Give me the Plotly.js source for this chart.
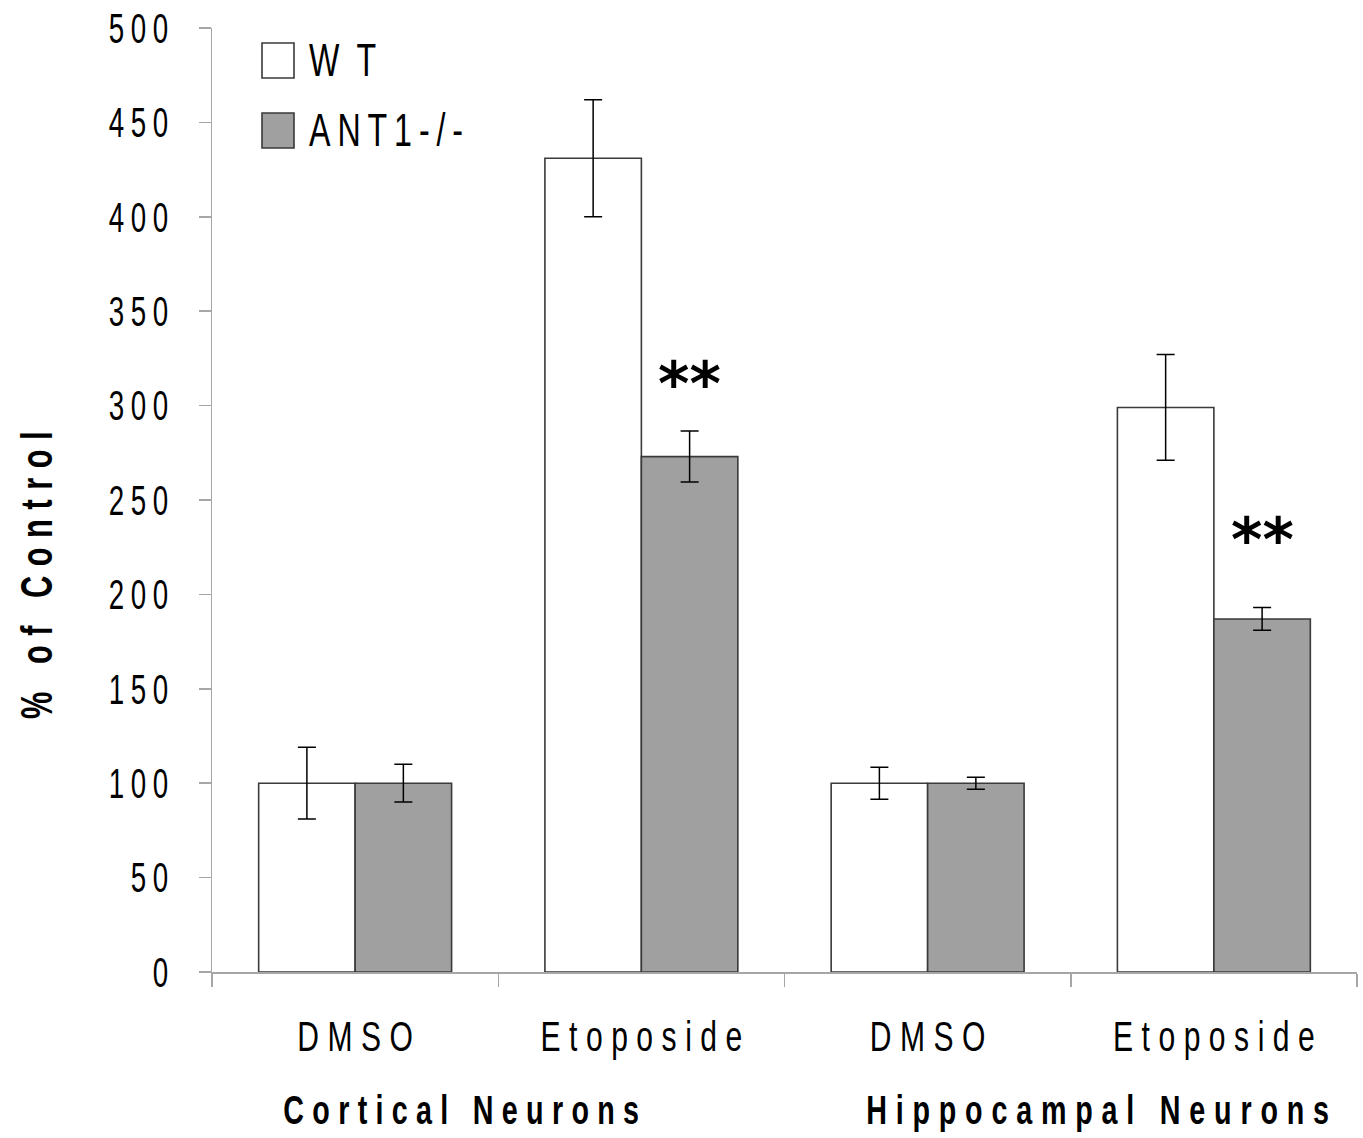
<!DOCTYPE html>
<html>
<head>
<meta charset="utf-8">
<script src="https://cdn.plot.ly/plotly-3.0.1.min.js"></script>
<style>
  html, body { margin: 0; padding: 0; background: #fff; }
  #chart { width: 1363px; height: 1138px; }
</style>
</head>
<body>
<div id="chart"></div>
<script>
// ---- data ----
const categories = ["DMSO", "Etoposide", "DMSO", "Etoposide"];
const groups = ["Cortical Neurons", "Hippocampal Neurons"];
const seriesNames = ["WT", "ANT1-/-"];
const wtValues = [100, 431, 100, 299];
const wtErrors = [19, 31, 8.5, 28];
const antValues = [100, 273, 100, 187];
const antErrors = [10, 13.5, 3.2, 6];
const significance = ["", "**", "", "**"];
const yTickVals = [0, 50, 100, 150, 200, 250, 300, 350, 400, 450, 500];
const yTitle = "% of Control";

// ---- layout helpers (pixel -> paper) ----
const L = 212, R = 1357, T = 28, B = 972;
const px = x => (x - L) / (R - L);
const py = y => (B - y) / (B - T);

const xIdx = categories.map((_, i) => i);
const gray = '#a6a6a6';
const fontFam = '"Liberation Sans", Arial, sans-serif';
const BARGAP = 0.326;
const barOffsetPx = (R - L) / categories.length * (1 - BARGAP) / 4;

const traces = [
  {
    type: 'bar', name: seriesNames[0], x: xIdx, y: wtValues,
    marker: { color: '#ffffff', line: { color: '#3a3a3a', width: 1.6 } },
    error_y: { type: 'data', array: wtErrors, visible: true, color: '#000', thickness: 1.5, width: 9 },
    hoverinfo: 'y'
  },
  {
    type: 'bar', name: seriesNames[1], x: xIdx, y: antValues,
    marker: { color: '#a0a0a0', line: { color: '#3a3a3a', width: 1.6 } },
    error_y: { type: 'data', array: antErrors, visible: true, color: '#000', thickness: 1.5, width: 9 },
    hoverinfo: 'y'
  }
];

const annotations = [];
// significance stars above ANT bars
const starShift = [0, 10, 0, 31];
significance.forEach((s, i) => {
  if (!s) return;
  annotations.push({
    x: i, y: antValues[i] + antErrors[i], xref: 'x', yref: 'y',
    xshift: barOffsetPx, yshift: starShift[i],
    text: '<b>' + s + '</b>', showarrow: false, xanchor: 'center', yanchor: 'bottom',
    font: { family: 'DejaVu Sans, sans-serif', size: 60, color: '#000' }
  });
});
// group labels
const groupX = [0.37, 2.595];
groups.forEach((g, i) => {
  annotations.push({
    x: groupX[i], y: py(1110), xref: 'x', yref: 'paper',
    text: '<b>' + g + '</b>', showarrow: false, xanchor: 'center', yanchor: 'middle',
    font: { family: fontFam, size: 41, color: '#000' }
  });
});
// legend texts
const legendY = [60, 130];
seriesNames.forEach((n, i) => {
  annotations.push({
    x: px(307), y: py(legendY[i]), xref: 'paper', yref: 'paper',
    text: n, showarrow: false, xanchor: 'left', yanchor: 'middle',
    font: { family: fontFam, size: 46, color: '#000' }
  });
});
// y title
annotations.push({
  x: px(36), y: py(575), xref: 'paper', yref: 'paper', textangle: -90,
  text: '<b>' + yTitle + '</b>', showarrow: false, xanchor: 'center', yanchor: 'middle',
  font: { family: fontFam, size: 44, color: '#000' }
});

const shapes = [
  { type: 'rect', xref: 'paper', yref: 'paper', x0: px(262), x1: px(294), y0: py(78), y1: py(43),
    fillcolor: '#ffffff', line: { color: '#3a3a3a', width: 1.6 } },
  { type: 'rect', xref: 'paper', yref: 'paper', x0: px(262), x1: px(294), y0: py(148), y1: py(113),
    fillcolor: '#a0a0a0', line: { color: '#3a3a3a', width: 1.6 } }
];

const layout = {
  width: 1363, height: 1138,
  margin: { l: L, r: 1363 - R, t: T, b: 1138 - B, pad: 0 },
  paper_bgcolor: '#fff', plot_bgcolor: '#fff',
  barmode: 'group', bargap: BARGAP, bargroupgap: 0,
  showlegend: false,
  font: { family: fontFam, color: '#000' },
  xaxis: {
    type: 'linear', range: [-0.5, 3.5], fixedrange: true,
    tickmode: 'array', tickvals: xIdx, ticktext: categories,
    ticks: '', ticklabelstandoff: 26,
    tickfont: { family: fontFam, size: 43, color: '#000' },
    showline: true, linecolor: gray, linewidth: 1.5,
    showgrid: false, zeroline: false,
    minor: { tickmode: 'array', tickvals: [-0.5, 0.5, 1.5, 2.5, 3.5], ticks: 'outside', ticklen: 13, tickcolor: gray, tickwidth: 1.5, showgrid: false }
  },
  yaxis: {
    range: [0, 500], fixedrange: true,
    tickmode: 'array', tickvals: yTickVals,
    ticks: 'outside', ticklen: 12, tickcolor: gray, tickwidth: 1.5,
    ticklabelstandoff: 22,
    tickfont: { family: fontFam, size: 42, color: '#000' },
    showline: true, linecolor: gray, linewidth: 1.5,
    showgrid: false, zeroline: false
  },
  annotations: annotations,
  shapes: shapes
};

// condense text horizontally (narrow typeface look) and add letter spacing,
// keeping the original left / right / centre of the text in place
function condense(el, s, lsPost, mode) {
  const bb0 = el.getBBox();
  const lsPre = lsPost / s;
  el.style.letterSpacing = lsPre + 'px';
  const bb1 = el.getBBox();
  let target, src;
  if (mode === 'left') { target = bb0.x; src = bb1.x; }
  else if (mode === 'right') { target = bb0.x + bb0.width; src = bb1.x + bb1.width - lsPre; }
  else { target = bb0.x + bb0.width / 2; src = bb1.x + (bb1.width - lsPre) / 2; }
  const t = el.getAttribute('transform') || '';
  el.setAttribute('transform', t + ' translate(' + target + ',0) scale(' + s + ',1) translate(' + (-src) + ',0)');
}

Plotly.newPlot('chart', traces, layout, { staticPlot: true, displayModeBar: false }).then(gd => {
  gd.querySelectorAll('.ytick text').forEach(el => condense(el, 0.66, 6.6, 'right'));
  gd.querySelectorAll('.xtick text').forEach(el => condense(el, 0.7, 8.5, 'center'));
  gd.querySelectorAll('.annotation').forEach(a => {
    const txt = a.querySelector('.annotation-text');
    if (!txt) return;
    const content = txt.textContent;
    if (content.indexOf('*') >= 0) return;
    if (content === groups[0]) condense(txt, 0.7, 8.3, 'center');
    else if (content === groups[1]) condense(txt, 0.7, 8.8, 'center');
    else if (content === seriesNames[0]) condense(txt, 0.7, 17, 'left');
    else if (content === seriesNames[1]) condense(txt, 0.7, 6.9, 'left');
    else if (content === yTitle) condense(txt, 0.7, 9.5, 'center');
  });
});
</script>
</body>
</html>
